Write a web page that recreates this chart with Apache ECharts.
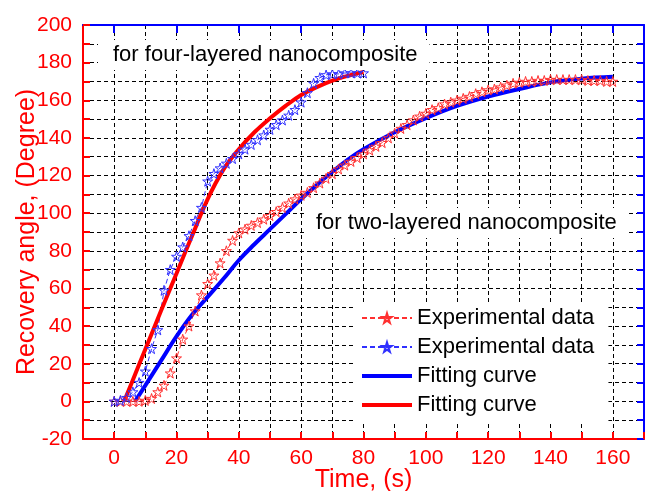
<!DOCTYPE html>
<html lang="en">
<head>
<meta charset="UTF-8">
<title>Recovery angle</title>
<style>
    html, body { margin: 0; padding: 0; background: #fff; }
    #main { width: 646px; height: 491px; }
</style>
<script src="https://cdn.jsdelivr.net/npm/echarts@6/dist/echarts.min.js"></script>
</head>
<body>
<div id="main"></div>
<script type="text/javascript">
    // four-layered nanocomposite: measured points (blue stars) and fitted curve (red)
    var fourTime = [0, 2, 4, 6, 8, 10, 12, 14, 16, 18, 20, 22, 24, 26, 28, 30, 32, 34, 36, 38, 40,
        42, 44, 46, 48, 50, 52, 54, 56, 58, 60, 62, 64, 66, 68, 70, 72, 74, 76, 78, 80];
    var fourExp = [0, 0.5, 2, 5, 10, 16, 28, 38, 59, 70, 77, 82, 88, 96, 103, 117, 121, 124, 126.5, 129, 131.5,
        134, 136.5, 139, 141.5, 144.5, 147, 149.5, 152, 155, 159, 164, 169, 172, 173.5, 174, 174, 174.5, 174.5, 174.5, 174.5];
    var fourFitTime = [3.2, 6, 10, 15, 20, 25, 30, 35, 40, 45, 50, 55, 60, 65, 70, 75, 80];
    var fourFit = [0, 11.4, 27.7, 48, 68, 88, 107.5, 123, 134, 143, 150.4, 157, 162.8, 167, 170.5, 173, 175];

    // two-layered nanocomposite: measured points (red stars) and fitted curve (blue)
    var twoTime = [0, 2, 4, 6, 8, 10, 12, 14, 16, 18, 20, 22, 24, 26, 28, 30, 32, 34, 36, 38, 40,
        42, 44, 46, 48, 50, 52, 54, 56, 58, 60, 62, 64, 66, 68, 70, 72, 74, 76, 78, 80,
        82, 84, 86, 88, 90, 92, 94, 96, 98, 100, 102, 104, 106, 108, 110, 112, 114, 116, 118, 120,
        122, 124, 126, 128, 130, 132, 134, 136, 138, 140, 142, 144, 146, 148, 150, 152, 154, 156, 158, 160];
    var twoExp = [0, 0, 0, 0, 0, 0.5, 1.5, 5, 8.5, 15, 23, 33, 40, 48, 56.5, 62.5, 67, 73.5, 80, 85.5, 89.5,
        91.5, 93.5, 95, 96.8, 98.7, 100.8, 103, 105.3, 107.5, 109.5, 111, 113.5, 116, 118.5, 121, 123.5, 125.5, 127.5, 129.5, 131.5,
        133.5, 135.5, 137.5, 140, 142.5, 145, 147, 149.5, 151.5, 153, 155, 156, 158, 159, 160, 161, 162, 163.5, 164.5, 165.5,
        166, 167, 168, 169, 169.5, 170, 170, 170.5, 170.5, 171, 171, 171, 171, 171, 171, 170.5, 170.5, 170.5, 170, 170];
    var twoFitTime = [6.7, 10, 15, 20, 25, 30, 35, 40, 45, 50, 55, 60, 65, 70, 75, 80, 90, 100, 110, 120, 130, 140, 150, 160];
    var twoFit = [0, 8.5, 21.5, 34.5, 46, 55.5, 65, 75, 83.5, 91.5, 99.5, 107.5, 115, 122, 128.5, 134, 143, 150.5, 157, 162, 166, 169.5, 171.5, 172.5];

    var xTicks = [0, 20, 40, 60, 80, 100, 120, 140, 160];

    function pairs(xs, ys) {
        var out = [];
        for (var i = 0; i < xs.length; i++) out.push([xs[i], ys[i]]);
        return out;
    }

    var star = 'path://M50,0 L61,35 L98,35 L68,57 L79,91 L50,70 L21,91 L32,57 L2,35 L39,35 Z';
    var red = '#ff0000', blue = '#0000ff';
    var gridDash = {color: '#000', type: [4, 3], width: 1};
    var font = 'Liberation Sans';

    var myChart = echarts.init(document.getElementById('main'));
    var option = {
        animation: false,
        textStyle: {fontFamily: font},
        grid: {left: 83, right: 2, top: 25, bottom: 52, outerBoundsMode: 'none', containLabel: false},
        legend: {
            orient: 'vertical',
            left: 355,
            top: 302,
            itemWidth: 50,
            itemHeight: 12,
            itemGap: 7,
            padding: [5, 8, 5, 5],
            backgroundColor: '#fff',
            textStyle: {fontSize: 22, color: '#000', fontFamily: font},
            data: [
                'Experimental data',
                'Experimental data ',
                {name: 'Fitting curve', itemStyle: {opacity: 0}, lineStyle: {width: 4}},
                {name: 'Fitting curve ', itemStyle: {opacity: 0}, lineStyle: {width: 4}}
            ]
        },
        xAxis: [
            {
                type: 'value', position: 'bottom', min: -10, max: 170, interval: 10,
                name: 'Time, (s)', nameLocation: 'middle', nameGap: 29, nameMoveOverlap: false,
                nameTextStyle: {color: red, fontSize: 25, fontFamily: font},
                axisLine: {onZero: false, lineStyle: {color: red, width: 2}},
                axisTick: {inside: true, length: 7, lineStyle: {color: red, width: 2}},
                axisLabel: {customValues: xTicks, color: red, fontSize: 21, margin: 9},
                splitLine: {show: true, lineStyle: gridDash}
            },
            {
                type: 'value', position: 'top', min: -10, max: 170, interval: 10,
                axisLine: {onZero: false, lineStyle: {color: blue, width: 2}},
                axisTick: {inside: true, length: 8, customValues: xTicks, lineStyle: {color: blue, width: 2}},
                axisLabel: {show: false},
                splitLine: {show: false}
            }
        ],
        yAxis: [
            {
                type: 'value', position: 'left', min: -20, max: 200, interval: 20,
                name: 'Recovery angle, (Degree)', nameLocation: 'middle', nameGap: 43, nameMoveOverlap: false,
                nameTextStyle: {color: red, fontSize: 25, fontFamily: font},
                axisLine: {show: true, onZero: false, lineStyle: {color: red, width: 2}},
                axisTick: {show: true, inside: true, length: 7, lineStyle: {color: red, width: 2}},
                minorTick: {show: true, splitNumber: 2, length: 7, lineStyle: {color: red, width: 2}},
                axisLabel: {color: red, fontSize: 21, margin: 11},
                splitLine: {show: true, lineStyle: gridDash},
                minorSplitLine: {show: true, lineStyle: gridDash}
            },
            {
                type: 'value', position: 'right', min: -20, max: 200, interval: 10,
                axisLine: {show: true, onZero: false, lineStyle: {color: blue, width: 2}},
                axisTick: {show: true, inside: true, length: 7, lineStyle: {color: blue, width: 2}},
                axisLabel: {show: false},
                splitLine: {show: false}
            }
        ],
        series: [
            {
                name: 'Experimental data', type: 'line',
                data: pairs(twoTime, twoExp),
                symbol: star, symbolSize: 10,
                itemStyle: {color: 'rgba(255,255,255,0)', borderColor: '#ff3030', borderWidth: 1},
                lineStyle: {color: '#ff3030', width: 1, type: [5, 3]}
            },
            {
                name: 'Experimental data ', type: 'line',
                data: pairs(fourTime, fourExp),
                symbol: star, symbolSize: 10,
                itemStyle: {color: 'rgba(255,255,255,0)', borderColor: '#3030ff', borderWidth: 1},
                lineStyle: {color: '#3030ff', width: 1, type: [5, 3]}
            },
            {
                name: 'Fitting curve', type: 'line',
                data: pairs(twoFitTime, twoFit),
                symbol: 'none', smooth: 0.4,
                itemStyle: {color: blue},
                lineStyle: {color: blue, width: 4}
            },
            {
                name: 'Fitting curve ', type: 'line',
                data: pairs(fourFitTime, fourFit),
                symbol: 'none', smooth: 0.4,
                itemStyle: {color: red},
                lineStyle: {color: red, width: 4}
            }
        ],
        graphic: [
            {
                type: 'text', left: 98, top: 40, z: 100,
                style: {
                    text: 'for four-layered nanocomposite', font: '22px "Liberation Sans"', fill: '#000',
                    backgroundColor: '#fff', padding: [4, 12, 4, 15]
                }
            },
            {
                type: 'text', left: 305, top: 208, z: 100,
                style: {
                    text: 'for two-layered nanocomposite', font: '22px "Liberation Sans"', fill: '#000',
                    backgroundColor: '#fff', padding: [4, 12, 4, 11]
                }
            }
        ]
    };
    myChart.setOption(option);
</script>
</body>
</html>
